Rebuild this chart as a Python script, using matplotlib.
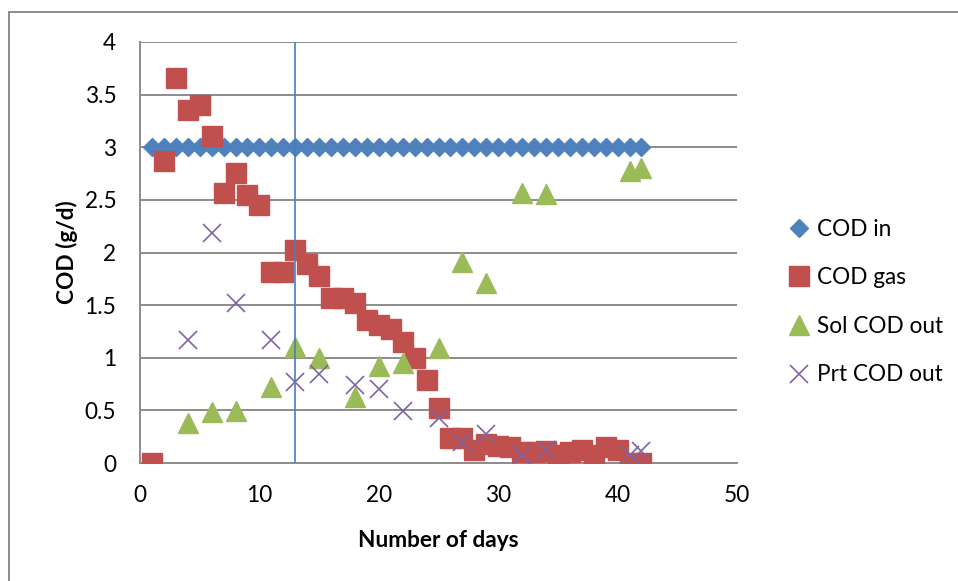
import matplotlib
matplotlib.use("Agg")
import matplotlib.pyplot as plt
from matplotlib.lines import Line2D

plt.rcParams['font.family'] = ['Lato', 'DejaVu Sans']

# data
days_in = list(range(1, 43))
cod_in = [3.0] * 42

days_gas = list(range(1, 43))
cod_gas = [0.0, 2.87, 3.66, 3.35, 3.40, 3.11, 2.57, 2.76, 2.55, 2.45,
           1.81, 1.81, 2.02, 1.89, 1.78, 1.57, 1.57, 1.52, 1.36, 1.31,
           1.27, 1.15, 1.00, 0.79, 0.52, 0.24, 0.24, 0.12, 0.18, 0.16,
           0.15, 0.10, 0.10, 0.11, 0.08, 0.10, 0.12, 0.08, 0.15, 0.12,
           0.0, 0.0]

days_out = [4, 6, 8, 11, 13, 15, 18, 20, 22, 25, 27, 29, 32, 34, 41, 42]
sol_cod_out = [0.38, 0.48, 0.49, 0.72, 1.10, 1.00, 0.63, 0.92, 0.95, 1.09,
               1.91, 1.71, 2.57, 2.56, 2.77, 2.80]
prt_cod_out = [1.17, 2.19, 1.52, 1.17, 0.77, 0.85, 0.74, 0.70, 0.49, 0.43,
               0.20, 0.28, 0.08, 0.12, 0.08, 0.11]

marker_day = 13

fs = 16.3

fig = plt.figure(figsize=(9.58, 5.81), dpi=100)
ax = fig.add_axes([140 / 958, 118 / 581, 597 / 958, 421 / 581])

ax.plot(days_in, cod_in, ls='none', marker='D', ms=9.6, color='#4F81BD',
        mec='#4F81BD', label='COD in', zorder=3)
ax.plot(days_gas, cod_gas, ls='none', marker='s', ms=14, color='#C0504D',
        mec='#C0504D', label='COD gas', zorder=4)
ax.plot(days_out, sol_cod_out, ls='none', marker='^', ms=14.4, color='#9BBB59',
        mec='#9BBB59', label='Sol COD out', zorder=5)
ax.plot(days_out, prt_cod_out, ls='none', marker='x', ms=13.5, mew=1.2,
        color='#8064A2', label='Prt COD out', zorder=6)
ax.axvline(marker_day, color='#4A7EBB', lw=1.2, zorder=7)

ax.set_xlim(0, 50)
ax.set_ylim(0, 4)
ax.set_xticks(range(0, 51, 10))
ax.set_yticks([0, 0.5, 1, 1.5, 2, 2.5, 3, 3.5, 4])
ax.set_yticklabels(['0', '0.5', '1', '1.5', '2', '2.5', '3', '3.5', '4'])
ax.tick_params(length=0, labelsize=fs, pad=16)
ax.tick_params(axis='y', pad=17)
ax.grid(axis='y', color='#8C8C8C', lw=1.4)
ax.set_axisbelow(True)
for side in ['top', 'right']:
    ax.spines[side].set_visible(False)
for side in ['left', 'bottom']:
    ax.spines[side].set_color('#8C8C8C')
    ax.spines[side].set_linewidth(1.4)

ax.set_xlabel('Number of days', fontsize=fs, fontweight='bold', labelpad=17)
ax.set_ylabel('COD (g/d)', fontsize=fs, fontweight='bold', labelpad=5)

fig.legend(loc='center left', bbox_to_anchor=(788 / 958, 1 - 302 / 581),
           frameon=False, fontsize=fs, numpoints=1, handlelength=1.0,
           handletextpad=0.3, labelspacing=1.22, borderaxespad=0, borderpad=0)

# outer chart border (only left and top edges are visible)
fig.add_artist(Line2D([9 / 958, 9 / 958], [0, 1 - 12 / 581],
                      color='#8C8C8C', lw=1.4))
fig.add_artist(Line2D([9 / 958, 1], [1 - 12 / 581, 1 - 12 / 581],
                      color='#8C8C8C', lw=1.4))

fig.savefig('out.png', dpi=100)
